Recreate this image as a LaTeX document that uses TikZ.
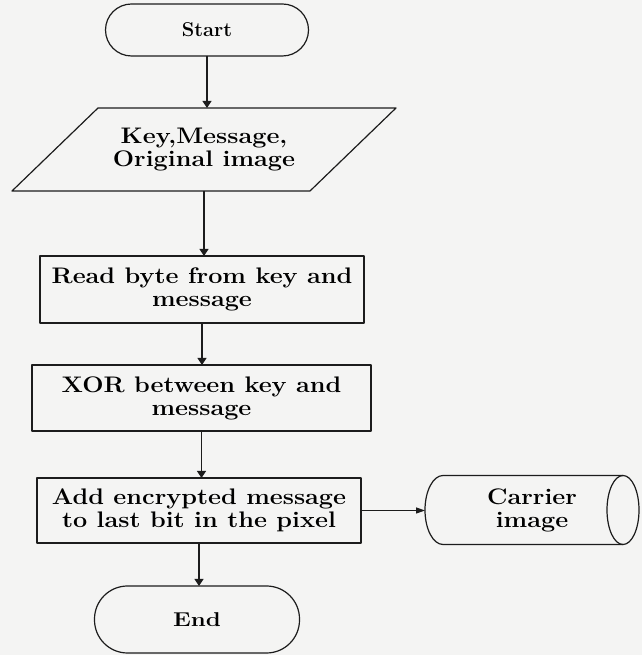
\documentclass[tikz,border=0pt]{standalone}
\usepackage{graphicx}
\usetikzlibrary{arrows.meta,calc}

\definecolor{paper}{RGB}{244,244,243}
\definecolor{ink}{RGB}{28,28,28}

% wide, heavy serif for the box labels
\newcommand\flowtext{\fontsize{22.5}{23}\selectfont\bfseries}
\newcommand\termtext{\fontsize{20}{20}\selectfont\bfseries}
\newcommand\wideline[1]{\scalebox{1.12}[1]{#1}}

\tikzset{
  outline/.style={draw=ink, line width=1.2pt, line join=round},
  process/.style={outline, rectangle, align=center, inner sep=2pt, outer sep=0pt, font=\flowtext},
  terminal/.style={outline, rectangle, align=center, inner sep=2pt, outer sep=0pt, font=\termtext},
  holder/.style={rectangle, align=center, inner sep=0pt, outer sep=0pt, font=\flowtext},
  flow/.style={draw=ink, line width=1.2pt, -{Triangle[length=7pt,width=9pt]}},
  sideflow/.style={draw=ink, line width=1.2pt, -{Triangle[length=9pt,width=6pt]}},
}

\begin{document}
\begin{tikzpicture}[x=1pt,y=1pt]
  % page
  \fill[paper] (0,0) rectangle (642,655);
  \useasboundingbox (0,0) rectangle (642,655);

  % terminals
  \node[terminal, minimum width=203pt, minimum height=52pt, rounded corners=26pt]
    (start) at (207,625) {Start};
  \node[terminal, minimum width=205pt, minimum height=67pt, rounded corners=33pt]
    (stop) at (197,35.5) {\scalebox{1.2}[1]{End}};

  % input parallelogram
  \node[holder, minimum width=210pt, minimum height=83pt] (para) at (204,505.5)
    {\wideline{Key,Message,}\\\wideline{Original image}};
  \draw[outline] ($(para.south)+(-192,0)$) -- ($(para.south)+(106,0)$)
    -- ($(para.north)+(192,0)$) -- ($(para.north)+(-106,0)$) -- cycle;

  % processing steps
  \node[process, minimum width=324pt, minimum height=67pt] (read) at (202,365.5)
    {\wideline{Read byte from key and}\\\wideline{message}};
  \node[process, minimum width=339pt, minimum height=66pt] (xor) at (201.5,257)
    {\wideline{XOR between key and}\\\wideline{message}};
  \node[process, minimum width=324pt, minimum height=65pt] (add) at (199,144.5)
    {\wideline{Add encrypted message}\\\wideline{to last bit in the pixel}};

  % stored data (horizontal cylinder)
  \node[holder, minimum width=214pt, minimum height=69pt] (carrier) at (532,145)
    {\wideline{Carrier}\\\wideline{image}};
  \draw[outline] ($(carrier.center)+(-89,34.5)$)
      arc[start angle=90, end angle=270, x radius=18, y radius=34.5]
    -- ($(carrier.center)+(91,-34.5)$)
      arc[start angle=-90, end angle=90, x radius=16, y radius=34.5]
    -- cycle;
  \draw[outline] ($(carrier.center)+(91,34.5)$)
      arc[start angle=90, end angle=270, x radius=16, y radius=34.5];

  % connectors
  \draw[flow] (start.south) -- (start.south |- para.north);
  \draw[flow] (para.south) -- (para.south |- read.north);
  \draw[flow] (read.south) -- (read.south |- xor.north);
  \draw[flow] (xor.south) -- (xor.south |- add.north);
  \draw[flow] (add.south) -- (add.south |- stop.north);
  \draw[sideflow] (add.east) -- (add.east -| carrier.west);
\end{tikzpicture}
\end{document}
